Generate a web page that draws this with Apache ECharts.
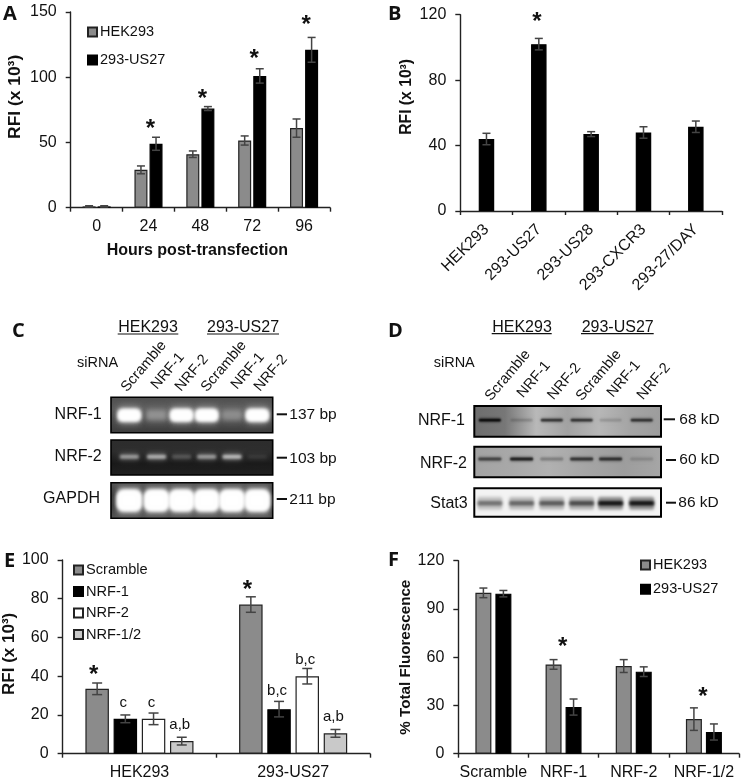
<!DOCTYPE html>
<html><head><meta charset="utf-8">
<style>html,body{margin:0;padding:0;background:#fff}#c{width:742px;height:781px}</style>
<script src="https://cdn.jsdelivr.net/npm/echarts@6/dist/echarts.min.js"></script>
</head><body><div id="c"></div>
<script>
// Panel A
const hoursCats = ['0','24','48','72','96'];
const aHek = [1,29,41,51.5,61];
const aHekErr = [0.5,3,2.5,3.5,7];
const aUs27 = [1,49,76,101,121];
const aUs27Err = [0.5,5,1.5,5.5,9.5];
const aStars = [[1,63.4],[2,86.4],[3,117],[4,143]];
// Panel B
const bCats = ['HEK293','293-US27','293-US28','293-CXCR3','293-27/DAY'];
const bVals = [44,102,47,48,51.5];
const bErr = [3.5,3.5,1.5,3.5,3.5];
const bStars = [[1,117.8]];
// Panel E
const eCats = ['HEK293','293-US27'];
const eScr = [33.5,77], eScrErr = [3,4];
const eN1 = [18,23], eN1Err = [2,4];
const eN2 = [18,40], eN2Err = [3,4];
const eN12 = [6.5,10.5], eN12Err = [2,2];
const eMarks = [[0,0,42.3,'*'],[0,1,26.3,'c'],[0,2,26.3,'c'],[0,3,14.8,'a,b'],
                [1,0,86.6,'*'],[1,1,32.4,'b,c'],[1,2,48.7,'b,c'],[1,3,19.1,'a,b']];
// Panel F
const fCats = ['Scramble','NRF-1','NRF-2','NRF-1/2'];
const fHek = [100,55.5,54.5,21.5], fHekErr = [3,3,4,7];
const fUs27 = [99.5,29,51,13.5], fUs27Err = [2,5,3,5];
const fStars = [[1,68.8],[3,37.8]];
// Blots: lane centres (lane units) and band strengths
const laneNames = ['Scramble','NRF-1','NRF-2','Scramble','NRF-1','NRF-2'];
const cLanes = [0.68,1.69,2.62,3.55,4.49,5.43];
const dLanes = [0.50,1.52,2.49,3.45,4.38,5.38];
const cNrf1 = [1,0.3,1,1,0.28,1];
const cNrf2 = [0.5,0.6,0.2,0.5,0.66,0.08];
const cGapdh = [1,1,1,1,1,1];
const dNrf1 = [1,0.18,0.72,0.72,0.15,0.72];
const dNrf2 = [0.6,0.85,0.25,0.7,0.72,0.15];
const dStat3 = [0.45,0.5,0.55,0.62,0.92,0.92];

const FONT = '"Liberation Sans",Arial,sans-serif';
const GRAY='#8b8b8b', INK='#222';
const grids=[], xAxes=[], yAxes=[], series=[];

function errRender(cap){
  return function(params,api){
    const c=api.value(0), v=api.value(1), e=api.value(2), dx=api.value(3);
    const p0=api.coord([c,v-e]), p1=api.coord([c,v+e]);
    const x=p0[0]+dx;
    const st={stroke:'#444',lineWidth:1.5};
    return {type:'group',children:[
      {type:'line',shape:{x1:x,y1:p0[1],x2:x,y2:p1[1]},style:st},
      {type:'line',shape:{x1:x-cap,y1:p0[1],x2:x+cap,y2:p0[1]},style:st},
      {type:'line',shape:{x1:x-cap,y1:p1[1],x2:x+cap,y2:p1[1]},style:st}
    ]};
  };
}
function annotSeries(g,marks,texts){
  series.push({type:'custom',xAxisIndex:g,yAxisIndex:g,z:6,silent:true,data:marks,
    renderItem(params,api){
      const t=texts[params.dataIndex], star=t==='*';
      const p=api.coord([api.value(0),api.value(1)]);
      return {type:'text',x:p[0]+api.value(2),y:p[1]+(star?4:0),
        style:{text:t,fill:'#111',align:'center',verticalAlign:'middle',
          font:(star?'bold 24px ':'15px ')+FONT}};
    }});
}
function barPanel(cfg){
  const g=grids.length;
  grids.push({left:cfg.l,top:cfg.t,width:cfg.w,height:cfg.h});
  xAxes.push({gridIndex:g,type:'category',data:cfg.cats,
    axisLine:{lineStyle:{color:INK,width:1.4}},axisTick:{show:true,length:4,lineStyle:{color:INK,width:1.4}},
    axisLabel:{interval:0,color:'#111',fontFamily:FONT,fontSize:16,margin:cfg.xMargin||11,rotate:cfg.rotate||0},
    name:cfg.xName,nameLocation:'middle',nameGap:35,
    nameTextStyle:{fontFamily:FONT,fontWeight:'bold',fontSize:16,color:'#111',padding:[0,6,0,0]}});
  yAxes.push({gridIndex:g,type:'value',min:0,max:cfg.max,interval:cfg.step,splitLine:{show:false},
    axisLine:{show:true,lineStyle:{color:INK,width:1.4}},axisTick:{show:true,length:5,lineStyle:{color:INK,width:1.4}},
    axisLabel:{color:'#111',fontFamily:FONT,fontSize:16,margin:14},
    name:cfg.yName,nameLocation:'middle',nameGap:cfg.yGap,
    nameTextStyle:{fontFamily:FONT,fontWeight:'bold',fontSize:cfg.yNameSize,color:'#111',padding:[0,0,0,cfg.yPad]}});
  const n=cfg.bars.length, gapPx=cfg.bw*cfg.gap;
  cfg.bars.forEach((b,i)=>{
    series.push({type:'bar',name:b.name,xAxisIndex:g,yAxisIndex:g,data:b.vals,barWidth:cfg.bw,barGap:(cfg.gap*100)+'%',
      itemStyle:{color:b.color,borderColor:b.border||'#222',borderWidth:1.2},z:3});
    const dx=(i-(n-1)/2)*(cfg.bw+gapPx);
    series.push({type:'custom',xAxisIndex:g,yAxisIndex:g,z:5,silent:true,
      data:b.vals.map((v,k)=>[k,v,b.err[k],dx]),renderItem:errRender(cfg.cap)});
  });
  return {g,step:cfg.bw+gapPx,n};
}
const pA=barPanel({l:70.7,t:12,w:259.3,h:195.7,cats:hoursCats,max:150,step:50,bw:13,gap:0.16,cap:4,
  xName:'Hours post-transfection',yName:'RFI (x 10³)',yGap:47,yPad:26,yNameSize:17.4,
  bars:[{name:'HEK293',vals:aHek,err:aHekErr,color:GRAY},{name:'293-US27',vals:aUs27,err:aUs27Err,color:'#000',border:'#000'}]});
annotSeries(pA.g,aStars.map(s=>[s[0],s[1],2]),aStars.map(()=>'*'));
const pB=barPanel({l:460.3,t:14.7,w:261.7,h:196.3,cats:bCats,max:120,step:40,bw:15.5,gap:0,cap:4,rotate:45,xMargin:16,
  yName:'RFI (x 10³)',yGap:46,yPad:32,yNameSize:15.7,
  bars:[{name:'B',vals:bVals,err:bErr,color:'#000',border:'#000'}]});
annotSeries(pB.g,bStars.map(s=>[s[0],s[1],-2]),bStars.map(()=>'*'));
const pE=barPanel({l:59.3,t:560,w:310.7,h:193.7,cats:eCats,max:100,step:20,bw:23.5,gap:0.2,cap:5,
  yName:'RFI (x 10³)',yGap:40,yPad:6,yNameSize:17,
  bars:[{name:'Scramble',vals:eScr,err:eScrErr,color:GRAY},{name:'NRF-1',vals:eN1,err:eN1Err,color:'#000',border:'#000'},
        {name:'NRF-2',vals:eN2,err:eN2Err,color:'#fff'},{name:'NRF-1/2',vals:eN12,err:eN12Err,color:'#c9c9c9'}]});
annotSeries(pE.g,eMarks.map(m=>[m[0],m[2],(m[1]-1.5)*pE.step+(m[3]==='*'?-3.5:-2)]),eMarks.map(m=>m[3]));
const pF=barPanel({l:458.3,t:560.7,w:280.7,h:193,cats:fCats,max:120,step:30,bw:16,gap:0.25,cap:4,
  yName:'% Total Fluorescence',yGap:44.6,yPad:0,yNameSize:15.2,
  bars:[{name:'HEK293',vals:fHek,err:fHekErr,color:GRAY},{name:'293-US27',vals:fUs27,err:fUs27Err,color:'#000',border:'#000'}]});
annotSeries(pF.g,fStars.map(s=>[s[0],s[1],-1]),fStars.map(()=>'*'));

// Blot panels
function grad(stops,horizontal){
  return {type:'linear',x:0,y:0,x2:horizontal?1:0,y2:horizontal?0:1,
    colorStops:stops.map((c,i)=>({offset:i/(stops.length-1),color:c}))};
}
function softRect(x,y,w,h,r,rgba,blur){
  // only the blurred shadow of the rect is visible: the rect itself lies off-canvas
  const off=2000;
  return {type:'rect',shape:{x:x-off,y,width:w,height:h,r},
    style:{fill:'#000',shadowBlur:blur,shadowColor:rgba,shadowOffsetX:off}};
}
function blot(cfg){
  const g=grids.length;
  grids.push({show:true,left:cfg.l,top:cfg.t,width:cfg.w,height:cfg.h,backgroundColor:cfg.bg,borderColor:'#000',borderWidth:cfg.bd,z:1});
  xAxes.push({gridIndex:g,type:'value',min:0,max:6,show:false});
  yAxes.push({gridIndex:g,type:'value',min:0,max:1,show:false});
  const rgb=cfg.light?'255,255,255':'0,0,0';
  series.push({type:'custom',xAxisIndex:g,yAxisIndex:g,z:2,silent:true,
    data:cfg.lanes.map((x,i)=>[x,cfg.vals[i]]),
    renderItem(params,api){
      const s=api.value(1), p=api.coord([api.value(0),cfg.yf]);
      const hw=cfg.hw, hh=cfg.hh, H=cfg.haloH, kids=[];
      kids.push(softRect(p[0]-hw,p[1]-H/2,hw*2,H,2,'rgba('+rgb+','+(s*cfg.haloA)+')',cfg.haloBlur));
      kids.push(softRect(p[0]-hw,p[1]-hh/2,hw*2,hh,cfg.light?hh/3.5:hh/3,'rgba('+rgb+','+Math.min(1,s)+')',cfg.blur));
      if(s>0.95&&cfg.light){
        kids.push(softRect(p[0]-hw,p[1]-hh/2,hw*2,hh,hh/3.5,'rgba(255,255,255,1)',cfg.blur));
        kids.push(softRect(p[0]-hw,p[1]-hh/2,hw*2,hh,hh/3.5,'rgba(255,255,255,1)',cfg.blur));
      }
      return {type:'group',children:kids};
    }});
}
const cL=111,cW=161.7,dL=474.3,dW=186.7;
blot({l:cL,t:397.3,w:cW,h:35.4,bd:1.6,light:true,lanes:cLanes,vals:cNrf1,yf:0.49,hw:10.5,hh:10,blur:4,haloH:19,haloA:0.3,haloBlur:6,
  bg:grad(['#4e4e4e','#5a5a5a','#4a4a4a','#3a3a3a'])});
blot({l:cL,t:440,w:cW,h:35,bd:1.6,light:true,lanes:cLanes,vals:cNrf2,yf:0.52,hw:9.5,hh:4,blur:3,haloH:9,haloA:0.28,haloBlur:5,
  bg:grad(['#2d2d2d','#2c2c2c','#191919','#222222'])});
blot({l:cL,t:482.7,w:cW,h:35.6,bd:1.6,light:true,lanes:cLanes,vals:cGapdh,yf:0.5,hw:11.5,hh:19,blur:4,haloH:28,haloA:0.4,haloBlur:5,
  bg:grad(['#555555','#3e3e3e','#3e3e3e','#555555'])});
blot({l:dL,t:406,w:dW,h:30.7,bd:2,light:false,lanes:dLanes,vals:dNrf1,yf:0.54,hw:11,hh:2.8,blur:2,haloH:5,haloA:0.2,haloBlur:3,
  bg:grad(['#6d6d6d','#777777','#b9b9b9','#a2a2a2','#b7b7b7','#a4a4a4','#9c9c9c'],true)});
blot({l:dL,t:446.7,w:dW,h:30.6,bd:2,light:false,lanes:dLanes,vals:dNrf2,yf:0.6,hw:11.5,hh:3,blur:2,haloH:6,haloA:0.2,haloBlur:3,
  bg:grad(['#a3a3a3','#a8a8a8','#b1b1b1','#a5a5a5','#9d9d9d','#a6a6a6'],true)});
blot({l:dL,t:488.3,w:dW,h:28.4,bd:2,light:false,lanes:dLanes,vals:dStat3,yf:0.47,hw:12.5,hh:4.5,blur:3,haloH:13,haloA:0.42,haloBlur:3,
  bg:'#f3f3f3'});

// Fixed text around the panels
const gfx=[];
function txt(x,y,text,o){
  o=o||{};
  gfx.push({type:'text',x,y,rotation:o.rot||0,z:20,silent:true,
    style:{text,fill:'#111',align:o.align||'left',verticalAlign:'middle',
      font:(o.weight?o.weight+' ':'')+(o.size||16)+'px '+(o.family||FONT)}});
}
function hline(x1,x2,y,w){
  gfx.push({type:'line',z:20,silent:true,shape:{x1,y1:y,x2,y2:y},style:{stroke:'#111',lineWidth:w||1.2}});
}
[['A',3,14],['B',388,14],['C',12,331],['D',388,331.5],['E',4,561],['F',388,560]].forEach(a=>
  txt(a[1],a[2],a[0],{weight:'bold',size:20,family:'"Open Sans",sans-serif'}));

txt(148,327.7,'HEK293',{align:'center'}); hline(117.7,178.3,334);
txt(243,327.7,'293-US27',{align:'center'}); hline(207,279,334);
txt(77,362.7,'siRNA',{size:14.5});
txt(522,327.7,'HEK293',{align:'center'}); hline(491.7,551.7,333.7);
txt(617.7,327.7,'293-US27',{align:'center'}); hline(581,653.7,333.7);
txt(433.7,362.7,'siRNA',{size:14.5});

const cStarts=[[124,390],[154,387.5],[178,389.5],[204,390],[234,387.5],[257,389.5]];
const dStarts=[[488,399],[520,396],[550.5,398],[579,399],[610,395.5],[640,398]];
laneNames.forEach((n,i)=>{
  txt(cStarts[i][0],cStarts[i][1],n,{size:14.6,rot:0.87});
  txt(dStarts[i][0],dStarts[i][1],n,{size:14.6,rot:0.87});
});
txt(101.7,415,'NRF-1',{align:'right'}); txt(101.7,457,'NRF-2',{align:'right'}); txt(100,499,'GAPDH',{align:'right'});
hline(276.7,287,414.3,2); txt(289.3,415,'137 bp',{size:15.5});
hline(276.7,287,457.7,2); txt(289.3,459,'103 bp',{size:15.5});
hline(276.7,287,499,2); txt(289.3,500,'211 bp',{size:15.5});
txt(465,421,'NRF-1',{align:'right'}); txt(467,464,'NRF-2',{align:'right'}); txt(467.7,504,'Stat3',{align:'right'});
hline(663.7,675,419.3,2); txt(679.3,419.3,'68 kD',{size:15.5});
hline(666,676,460,2); txt(679.3,460,'60 kD',{size:15.5});
hline(666,676,502.7,2); txt(678.3,503,'86 kD',{size:15.5});

function leg(left,top,gap,names,size){
  return {left,top,padding:0,orient:'vertical',itemGap:gap,itemWidth:9,itemHeight:9,selectedMode:false,data:names.map(n=>({name:n,icon:'rect'})),
    textStyle:{fontFamily:FONT,fontSize:size,color:'#111',padding:[0,0,0,-2]}};
}
const chart=echarts.init(document.getElementById('c'),null,{renderer:'canvas'});
chart.setOption({
  animation:false,backgroundColor:'#fff',
  grid:grids,xAxis:xAxes,yAxis:yAxes,series,graphic:{elements:gfx},
  legend:[leg(87,24.5,13,['HEK293','293-US27'],14.5),
          leg(73,562.5,6.5,['Scramble','NRF-1','NRF-2','NRF-1/2'],14.6),
          leg(640,557.5,9.3,['HEK293','293-US27'],14.5)]
});
</script></body></html>
